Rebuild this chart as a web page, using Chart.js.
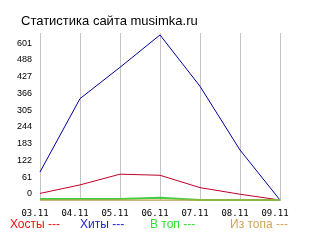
<!DOCTYPE html>
<html>
<head>
<meta charset="utf-8">
<script src="https://cdn.jsdelivr.net/npm/chart.js@4.4.1/dist/chart.umd.min.js"></script>
<style>
  html, body { margin: 0; padding: 0; background: #fff; }
  #wrap { width: 320px; height: 240px; }
</style>
</head>
<body>
<div id="wrap"><canvas id="stat"></canvas></div>
<script>
// chart values
var categories = ['03.11', '04.11', '05.11', '06.11', '07.11', '08.11', '09.11'];
var hosts      = [24, 55, 94, 90, 45, 21, 0];
var hits       = [102, 369, 483, 601, 414, 182, 0];
var toTop      = [4, 4, 4, 8, 0, 0, 0];
var fromTop    = [0, 0, 0, 0, 0, 0, 0];
var yTickValues = [0, 61, 122, 183, 244, 305, 366, 427, 488, 549];
var yTickLabels = ['0', '61', '122', '183', '244', '305', '366', '427', '488', '601'];
var seriesNames = ['Хосты ---', 'Хиты ---', 'В топ ---', 'Из топа ---'];
var chartTitle = 'Статистика сайта musimka.ru';

// title and the plain text legend under the axis
var textPlugin = {
  id: 'statText',
  afterDraw: function(chart) {
    var ctx = chart.ctx;
    ctx.save();
    ctx.textBaseline = 'middle';
    ctx.textAlign = 'left';
    ctx.fillStyle = '#000';
    ctx.font = '13px "Liberation Sans", Arial, sans-serif';
    ctx.fillText(chartTitle, 21, 21);

    var legendX = [10, 80, 150, 230];
    var legendColors = ['#ee1111', '#2222cc', '#33dd33', '#d4a455'];
    ctx.font = '12px "Liberation Sans", Arial, sans-serif';
    for (var i = 0; i < seriesNames.length; i++) {
      ctx.fillStyle = legendColors[i];
      ctx.fillText(seriesNames[i], legendX[i], 225);
    }
    ctx.restore();
  }
};

var makeLine = function(label, data, color, width, order) {
  return {
    label: label,
    data: data,
    borderColor: color,
    backgroundColor: color,
    borderWidth: width,
    pointRadius: 0,
    tension: 0,
    fill: false,
    clip: 4,
    order: order
  };
};

new Chart(document.getElementById('stat'), {
  type: 'line',
  data: {
    labels: categories,
    datasets: [
      makeLine(seriesNames[0], hosts, '#c00028', 1, 2),
      makeLine(seriesNames[1], hits, '#000099', 1, 3),
      makeLine(seriesNames[2], toTop, '#44cc44', 2, 1),
      makeLine(seriesNames[3], fromTop, '#d4a040', 1, 0)
    ]
  },
  options: {
    responsive: true,
    maintainAspectRatio: false,
    animation: false,
    layout: { padding: { top: 33, right: 40, left: 0, bottom: 0 } },
    plugins: {
      legend: { display: false },
      title: { display: false },
      tooltip: { enabled: false }
    },
    scales: {
      x: {
        offset: false,
        afterFit: function(scale) { scale.height = 40; },
        grid: { color: '#c4c4c4', lineWidth: 1, drawTicks: false },
        border: { display: true, color: '#c4c4c4' },
        ticks: {
          color: '#000',
          font: { family: '"DejaVu Sans Mono", monospace', size: 9 },
          padding: 8,
          labelOffset: -5,
          maxRotation: 0,
          autoSkip: false
        }
      },
      y: {
        min: 0,
        max: 608,
        afterFit: function(scale) { scale.width = 40; },
        afterBuildTicks: function(scale) {
          scale.ticks = yTickValues.map(function(v) { return { value: v }; });
        },
        grid: { display: false, drawTicks: false },
        border: { display: true, color: '#c4c4c4' },
        ticks: {
          color: '#000',
          font: { family: '"Liberation Sans", Arial, sans-serif', size: 9 },
          padding: 8,
          labelOffset: -6,
          callback: function(value, index) { return yTickLabels[index]; }
        }
      }
    }
  },
  plugins: [textPlugin]
});
</script>
</body>
</html>
